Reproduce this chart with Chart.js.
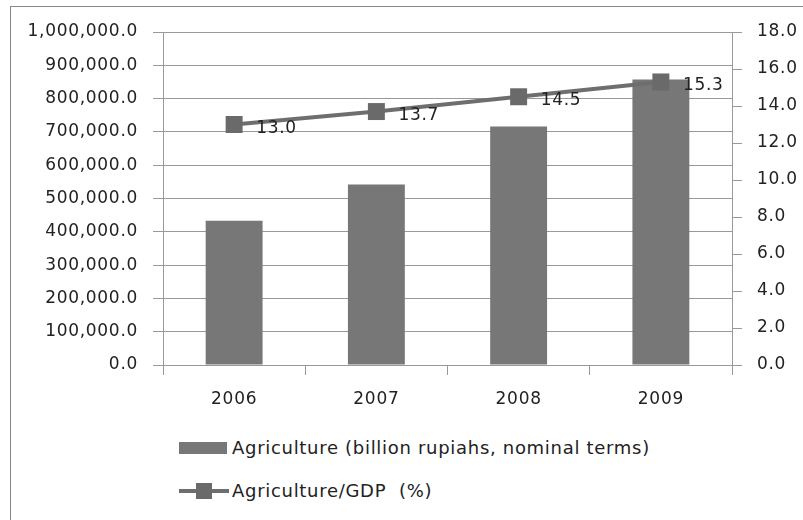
<!DOCTYPE html>
<html>
<head>
<meta charset="utf-8">
<script src="https://cdn.jsdelivr.net/npm/chart.js@4.4.1/dist/chart.umd.min.js"></script>
<style>
    html, body { margin: 0; padding: 0; background: #fff; }
    #wrap { position: relative; width: 803px; height: 520px; overflow: hidden; font-family: "DejaVu Sans", sans-serif; color: #222; }
    #frame { position: absolute; left: 10px; top: 6px; width: 900px; height: 600px; border-left: 1px solid #888; border-top: 1px solid #888; }
    #cv { position: absolute; left: 0; top: 0; }
    .leg { position: absolute; left: 179px; font-size: 18px; height: 22px; line-height: 22px; }
    .leg .txt { position: absolute; left: 53px; top: 0; white-space: nowrap; letter-spacing: 0.7px; }
    .swatch { position: absolute; left: 0; top: 5px; width: 48px; height: 12px; background: #777; }
    .ln { position: absolute; left: 0; top: 9px; width: 50px; height: 4px; background: #6e6e6e; }
    .mk { position: absolute; left: 17px; top: 3px; width: 16px; height: 16px; background: #6a6a6a; }
</style>
</head>
<body>
<div id="wrap">
    <div id="frame"></div>
    <canvas id="cv" width="803" height="430"></canvas>
    <div class="leg" style="top:437px"><span class="swatch"></span><span class="txt">Agriculture (billion rupiahs, nominal terms)</span></div>
    <div class="leg" style="top:480px"><span class="ln"></span><span class="mk"></span><span class="txt">Agriculture/GDP&nbsp; (%)</span></div>
</div>
<script>
const years = ["2006", "2007", "2008", "2009"];
const agriValue = [433223.4, 541931.5, 716065.3, 857241.5];
const agriShare = [13.0, 13.7, 14.5, 15.3];

const FONT = { family: "DejaVu Sans", size: 17 };
const SPACING = "0.7px";

// canvas state gets reset when chart sizes the canvas, so reapply spacing
const textSpacing = {
    id: "textSpacing",
    beforeLayout(chart) { chart.ctx.letterSpacing = SPACING; },
    beforeDraw(chart) { chart.ctx.letterSpacing = SPACING; }
};

// value labels next to each square marker of the line
const shareLabels = {
    id: "shareLabels",
    afterDatasetsDraw(chart) {
        const ctx = chart.ctx;
        const meta = chart.getDatasetMeta(0);
        ctx.save();
        ctx.font = "17px 'DejaVu Sans'";
        ctx.letterSpacing = SPACING;
        ctx.fillStyle = "#222";
        ctx.textAlign = "left";
        ctx.textBaseline = "middle";
        meta.data.forEach((pt, i) => {
            ctx.fillText(agriShare[i].toFixed(1), pt.x + 22, pt.y + 4);
        });
        ctx.restore();
    }
};

new Chart(document.getElementById("cv"), {
    type: "bar",
    data: {
        labels: years,
        datasets: [
            {
                type: "line",
                label: "Agriculture/GDP  (%)",
                data: agriShare,
                yAxisID: "y2",
                order: 0,
                borderColor: "#6e6e6e",
                borderWidth: 4,
                pointStyle: "rect",
                pointRadius: 12,
                pointBackgroundColor: "#6a6a6a",
                pointBorderColor: "#6a6a6a",
                pointBorderWidth: 0,
                tension: 0
            },
            {
                label: "Agriculture (billion rupiahs, nominal terms)",
                data: agriValue,
                yAxisID: "y",
                order: 1,
                backgroundColor: "#777",
                categoryPercentage: 0.8,
                barPercentage: 0.5
            }
        ]
    },
    options: {
        responsive: false,
        animation: false,
        layout: { padding: { top: 32, left: 0, right: 0, bottom: 0 } },
        plugins: { legend: { display: false }, tooltip: { enabled: false } },
        scales: {
            x: {
                grid: { drawOnChartArea: false, color: "#999", tickLength: 10 },
                border: { color: "#999" },
                ticks: { font: FONT, color: "#222", padding: 14 },
                afterFit: s => { s.height = 65; }
            },
            y: {
                position: "left",
                min: 0, max: 1000000,
                grid: { color: "#999", tickLength: 10 },
                border: { color: "#999" },
                ticks: {
                    stepSize: 100000, font: FONT, color: "#222", padding: 15,
                    callback: v => v.toLocaleString("en-US", { minimumFractionDigits: 1, maximumFractionDigits: 1 })
                },
                afterFit: s => { s.width = 163; }
            },
            y2: {
                position: "right",
                min: 0, max: 18,
                grid: { drawOnChartArea: false, color: "#999", tickLength: 10 },
                border: { color: "#999" },
                ticks: { stepSize: 2, font: FONT, color: "#222", padding: 15, callback: v => v.toFixed(1) },
                afterFit: s => { s.width = 71; }
            }
        }
    },
    plugins: [textSpacing, shareLabels]
});
</script>
</body>
</html>
